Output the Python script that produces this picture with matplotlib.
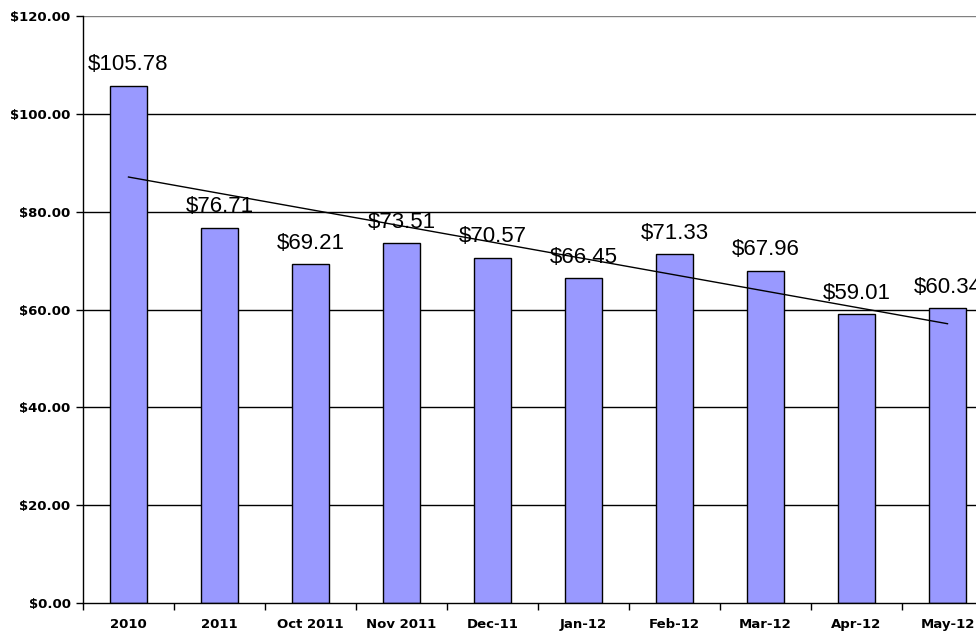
import numpy as np
import matplotlib
matplotlib.use('Agg')
import matplotlib.pyplot as plt

categories = ['2010', '2011', 'Oct 2011', 'Nov 2011', 'Dec-11', 'Jan-12',
              'Feb-12', 'Mar-12', 'Apr-12', 'May-12']
values = [105.78, 76.71, 69.21, 73.51, 70.57, 66.45, 71.33, 67.96, 59.01, 60.34]
yticks = [0, 20, 40, 60, 80, 100, 120]

fig = plt.figure(figsize=(9.76, 6.32), dpi=100)
ax = fig.add_axes([83 / 976, 29 / 632, 910 / 976, 587 / 632])

x = np.arange(len(values))
ax.bar(x, values, width=0.4, color='#9999ff', edgecolor='black', linewidth=1, zorder=2)

# linear trend line
slope, intercept = np.polyfit(x, values, 1)
ax.plot([x[0], x[-1]], [intercept + slope * x[0], intercept + slope * x[-1]],
        color='black', lw=1, zorder=3)

for xi, v in zip(x, values):
    ax.annotate('$%.2f' % v, (xi, v), xytext=(0, 15), textcoords='offset points',
                ha='center', va='center', fontsize=16, family='Liberation Sans', zorder=4)

ax.set_xlim(-0.5, len(values) - 0.5)
ax.set_ylim(0, 120)
ax.set_yticks(yticks)
ax.set_yticklabels(['$%.2f' % t for t in yticks], fontsize=9.5, fontweight='bold')
for t in yticks[1:-1]:
    ax.axhline(t, color='black', lw=1, zorder=1)
ax.axhline(120, color='#808080', lw=1, zorder=1)

ax.set_xticks(x)
ax.set_xticklabels(categories, fontsize=9.5, fontweight='bold')
ax.set_xticks(np.arange(len(values) + 1) - 0.5, minor=True)
ax.tick_params(axis='x', which='major', length=0, pad=11)
ax.tick_params(axis='x', which='minor', length=5, width=1, direction='out')
ax.tick_params(axis='y', length=5, width=1, pad=4, direction='out')

for s in ['top', 'right']:
    ax.spines[s].set_visible(False)
ax.spines['left'].set_linewidth(1)
ax.spines['bottom'].set_linewidth(1)

fig.savefig('out.png', dpi=100)
